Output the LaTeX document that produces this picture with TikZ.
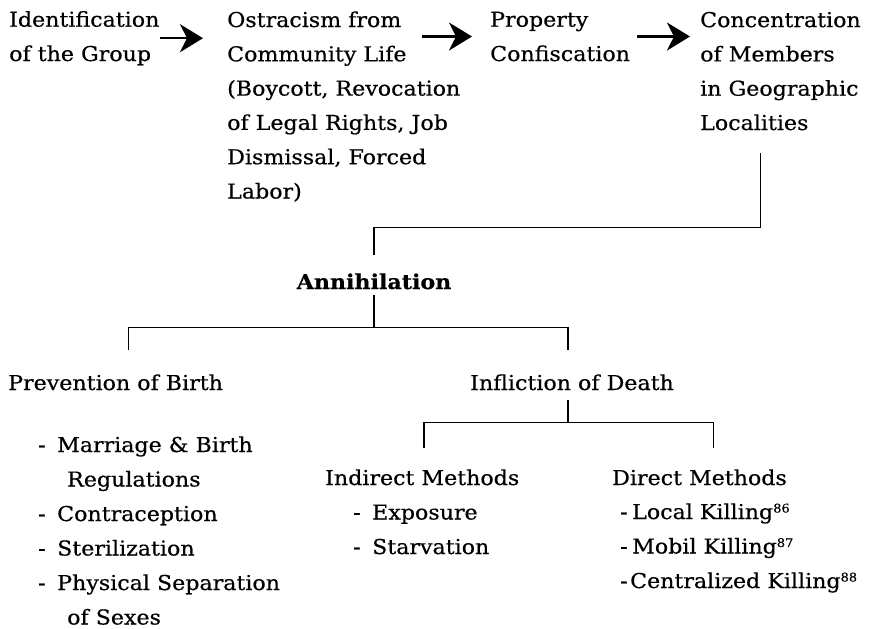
\documentclass[tikz,border=0pt]{standalone}
\usepackage{fontspec}
\setmainfont{DejaVu Serif}[FakeStretch=1.08,FakeBold=0.5]
\usetikzlibrary{arrows.meta,positioning}

\newcommand\lidash[1][19pt]{\makebox[#1][l]{-}}
\newcommand\fnref[1]{\raisebox{6.5pt}{\fontsize{12}{12}\selectfont #1}}

\tikzset{
  txt/.style={anchor=base west, align=left, inner sep=0pt, font=\fontsize{20.5}{34.3}\selectfont},
  lst/.style={txt, font=\fontsize{20.5}{34.5}\selectfont},
  flow/.style={-{Stealth[length=23pt,width=28pt,inset=7pt]}, line width=2.2pt},
  tree/.style={line width=1.6pt}
}

\begin{document}
\begin{tikzpicture}[x=1pt,y=-1pt]
\useasboundingbox (0,0) rectangle (870,629);
% stages before the killing (base = last line)
\node[txt] (ident) at (9,61) {Identification\\of the Group};
\node[txt] (ostra) at (227,198.5) {Ostracism from\\Community Life\\(Boycott, Revocation\\of Legal Rights, Job\\Dismissal, Forced\\Labor)};
\node[txt] (confis) at (490,61) {Property\\Confiscation};
\node[txt] (concen) at (700,130) {Concentration\\of Members\\in Geographic\\Localities};
\draw[flow, shorten >=24pt] (ident.east) -- (ident.east -| ostra.west);
\draw[flow] ([xshift=-68pt]confis.west) -- ([xshift=-18pt]confis.west);
\draw[flow, shorten <=7pt, shorten >=10pt] (confis.east) -- (confis.east -| concen.west);
% annihilation
\node[txt, anchor=base, font=\fontsize{20.5}{30}\selectfont\bfseries] (annih) at (374,289) {Annihilation};
\coordinate (drop) at ([xshift=-20pt,yshift=-23pt]concen.south);
\draw[tree] (drop) -- ++(0,74) -| ([yshift=18.5pt]annih.north);
\node[txt] (prevent) at (8,390) {Prevention of Birth};
\node[txt] (inflict) at (470,390) {Infliction of Death};
\draw[tree] ([yshift=-6pt]annih.south) -- ++(0,32) coordinate (bar1);
\draw[tree] ([xshift=13pt,yshift=24.5pt]prevent.north) |- (bar1) -| ([xshift=-4pt,yshift=24.5pt]inflict.north);
% prevention of birth
\node[lst] (birthlist) at (38,624.5) {\lidash Marriage \& Birth\\\hspace*{29pt}Regulations\\\lidash Contraception\\\lidash Sterilization\\\lidash Physical Separation\\\hspace*{29pt}of Sexes};
% infliction of death
\node[txt] (indirect) at (325,485) {Indirect Methods};
\node[txt] (direct) at (612,485) {Direct Methods};
\draw[tree] ([xshift=-4pt,yshift=-10pt]inflict.south) -- ++(0,22) coordinate (bar2);
\draw[tree] ([xshift=2pt,yshift=21.5pt]indirect.north) |- (bar2) -| ([xshift=14pt,yshift=21.5pt]direct.north);
\node[lst] (indlist) at (353,554) {\lidash Exposure\\\lidash Starvation};
\node[lst] (dirlist) at (620,588) {\lidash[12pt]Local Killing\fnref{86}\\\lidash[12pt]Mobil Killing\fnref{87}\\\lidash[10pt]Centralized Killing\fnref{88}};
\end{tikzpicture}
\end{document}
